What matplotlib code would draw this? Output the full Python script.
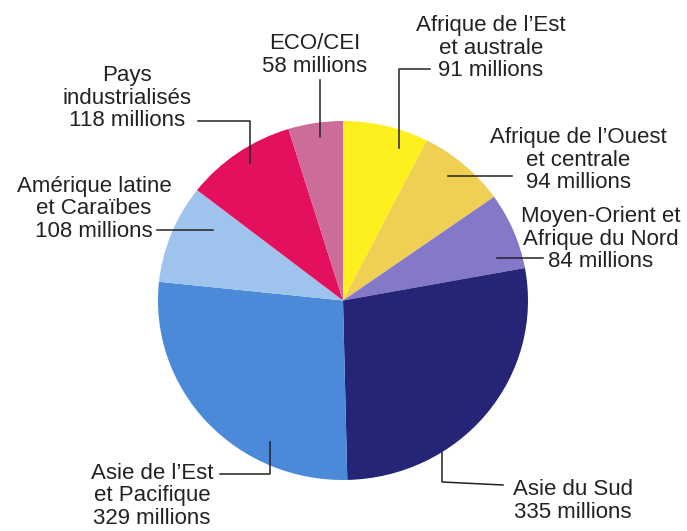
import matplotlib
matplotlib.use("Agg")
import matplotlib.pyplot as plt

# regions, clockwise from the top
regions = ["Afrique de l\u2019Est\net australe",
           "Afrique de l\u2019Ouest\net centrale",
           "Moyen-Orient et\nAfrique du Nord",
           "Asie du Sud",
           "Asie de l\u2019Est\net Pacifique",
           "Am\u00e9rique latine\net Cara\u00efbes",
           "Pays\nindustrialis\u00e9s",
           "ECO/CEI"]
millions = [91, 94, 84, 335, 329, 108, 118, 58]
colors = ["#fdf01e", "#f0cf55", "#8479c8", "#252477",
          "#4a8ad8", "#9ec4ee", "#e3115d", "#cc6c98"]

# label centres and leader lines, in pixels (x right, y down)
label_pos = [(491, 48), (578, 160), (601, 239), (573, 501),
             (152, 496), (94, 209), (127, 98), (315, 55)]
leaders = [[(430, 69), (399, 69), (399, 148)],
           [(512, 176), (448, 176)],
           [(543, 258), (497, 258)],
           [(503, 485), (442, 482), (442, 452)],
           [(220, 474), (270, 474), (270, 442)],
           [(157, 230), (213, 230)],
           [(198, 121), (250, 121), (250, 163)],
           [(320, 80), (320, 137)]]

W, H = 687, 531
fig = plt.figure(figsize=(W / 100, H / 100), dpi=100)
fig.patch.set_facecolor("white")

# pie axes placed over the pie area
left, top, right, bottom = 158, 121, 528, 480
ax = fig.add_axes([left / W, 1 - bottom / H, (right - left) / W, (bottom - top) / H])
ax.pie(millions, colors=colors, startangle=90, counterclock=False,
       radius=1, wedgeprops=dict(linewidth=0))
ax.set_aspect("auto")
ax.set_xlim(-1, 1)
ax.set_ylim(-1, 1)
ax.axis("off")

# overlay in pixel coordinates for labels
ov = fig.add_axes([0, 0, 1, 1], facecolor="none")
ov.set_xlim(0, W)
ov.set_ylim(H, 0)
ov.axis("off")

for name, val, (x, y), pts in zip(regions, millions, label_pos, leaders):
    ov.text(x, y, f"{name}\n{val} millions", ha="center", va="center",
            multialignment="center", fontsize=16, linespacing=1.1,
            family="Liberation Sans", color="#222222")
    xs = [p[0] for p in pts]
    ys = [p[1] for p in pts]
    ov.plot(xs, ys, color="#222222", lw=1.1)

fig.savefig("out.png", dpi=100)
